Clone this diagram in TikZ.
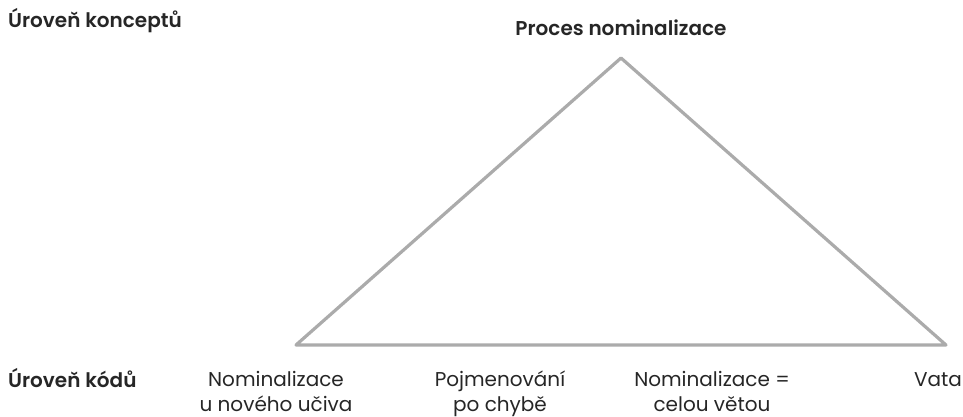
\documentclass[tikz,border=0pt]{standalone}
\usepackage{fontspec}
\setmainfont{Poppins}[BoldFont={* SemiBold}]
\begin{document}
\begin{tikzpicture}[x=1pt,y=-1pt,
  tri/.style={draw=black!33, line width=3.2pt, line join=round, line cap=round},
  head/.style={font=\fontsize{20}{22}\selectfont\bfseries, text=black!85, inner sep=0pt, anchor=base},
  lbl/.style={font=\fontsize{20}{25}\selectfont, text=black!85, align=center, inner sep=0pt, anchor=base}]
\useasboundingbox (0,0) rectangle (963,417);
\coordinate (apex) at (621,58);
\coordinate (bl) at (296,345);
\coordinate (br) at (946,345);
\draw[tri] (apex) -- (bl) -- (br) -- cycle;
\node[head, anchor=base west] (lc) at (8,28) {Úroveň konceptů};
\node[head] (pn) at (621,36) {Proces nominalizace};
\node[head, anchor=base west] (lk) at (8,387) {Úroveň kódů};
\node[lbl] (a) at (276,411) {Nominalizace\\u nového učiva};
\node[lbl] (b) at (500,411) {Pojmenování\\po chybě};
\node[lbl] (c) at (712,411) {Nominalizace =\\celou větou};
\node[lbl] (d) at (938,386) {Vata};
\end{tikzpicture}
\end{document}
